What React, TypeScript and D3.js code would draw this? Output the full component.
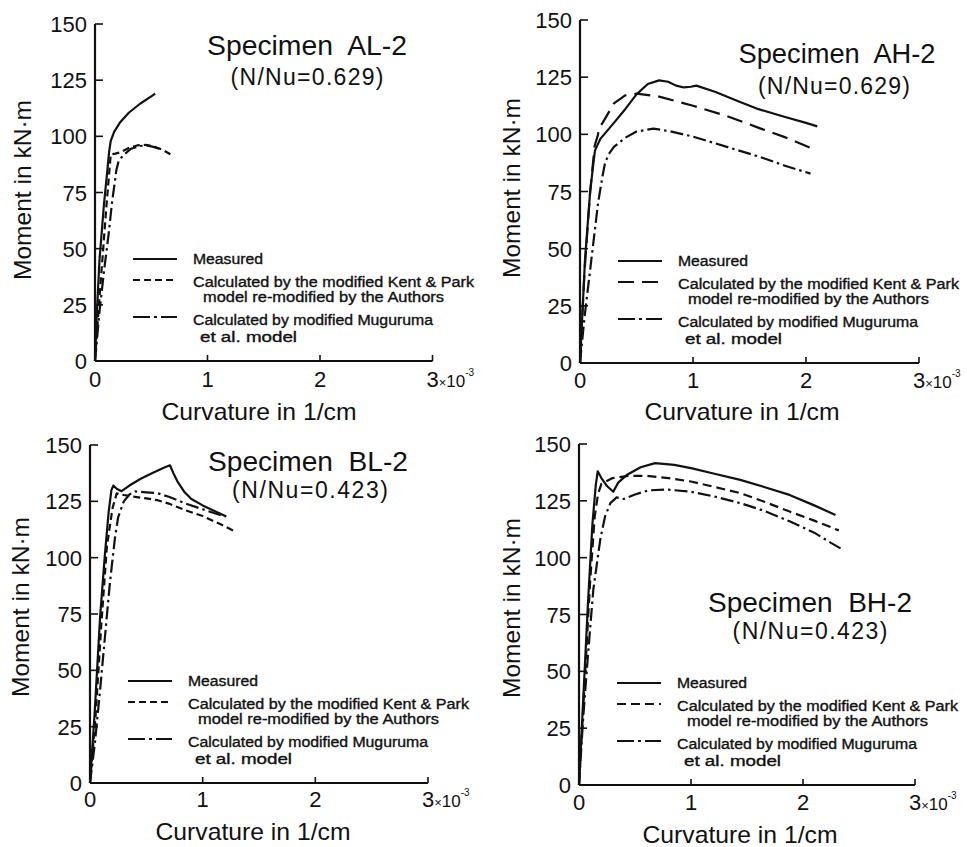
import React from "react";
import * as d3 from "d3";

type Pt = [number, number];

// ---------- data (curvature x10^-3 1/cm, moment kN·m) ----------
const AL2_measured: Pt[] = [[0,0],[0.015,20],[0.04,45],[0.08,70],[0.11,85],[0.125,93],[0.14,98],[0.17,102],[0.22,106],[0.3,110.5],[0.4,114.5],[0.5,117.8],[0.535,119]];
const AL2_kent: Pt[] = [[0,0],[0.03,22],[0.07,48],[0.1,68],[0.14,92],[0.18,92.3],[0.22,92.8],[0.3,94.8],[0.38,96],[0.45,96.2],[0.52,95.5],[0.6,94],[0.67,92]];
const AL2_mug: Pt[] = [[0,0],[0.04,22],[0.08,40],[0.12,56],[0.15,70],[0.19,85],[0.21,89],[0.25,91.5],[0.32,94.5],[0.4,95.7],[0.46,96],[0.52,95.3],[0.58,94.3]];

const AH2_measured: Pt[] = [[0,0],[0.044,45],[0.09,75],[0.12,88],[0.133,93],[0.18,98],[0.3,105],[0.4,111],[0.5,117.5],[0.6,122],[0.7,123.6],[0.78,123],[0.85,121.3],[0.92,120.5],[0.98,120.8],[1.03,121.3],[1.2,118.5],[1.4,114.5],[1.58,111],[1.8,107.8],[2.0,105],[2.1,103.5]];
const AH2_kent: Pt[] = [[0,0],[0.04,40],[0.09,75],[0.13,95],[0.16,100],[0.165,102.5],[0.2,105],[0.3,113.5],[0.4,117],[0.5,117.8],[0.7,116.5],[1.0,112.5],[1.3,108],[1.6,102.5],[1.8,99],[2.06,93.7]];
const AH2_mug: Pt[] = [[0,0],[0.04,20],[0.1,45],[0.16,70],[0.2,82],[0.22,87],[0.25,91],[0.3,94.5],[0.4,98.5],[0.5,101.2],[0.65,102.5],[0.8,101.3],[1.0,99],[1.3,94.5],[1.6,90],[1.8,86.5],[2.04,82.8]];

const BL2_measured: Pt[] = [[0,0],[0.04,30],[0.09,74],[0.13,100],[0.165,120],[0.19,130],[0.207,132],[0.24,130.5],[0.28,129.5],[0.35,132],[0.45,135],[0.55,137.5],[0.65,139.8],[0.71,141],[0.74,137.5],[0.78,133.5],[0.84,129],[0.9,126],[1.0,123.2],[1.1,120.8],[1.21,118.3]];
const BL2_kent: Pt[] = [[0,0],[0.05,30],[0.1,70],[0.15,105],[0.2,122],[0.237,128.5],[0.3,127.8],[0.4,127],[0.5,126.3],[0.6,125.5],[0.7,124],[0.85,121],[1.0,118.5],[1.15,115],[1.29,111.6]];
const BL2_mug: Pt[] = [[0,0],[0.044,18],[0.089,41],[0.133,65],[0.177,89],[0.222,109],[0.25,118],[0.3,125],[0.35,128],[0.4,129.4],[0.5,129],[0.6,128.6],[0.7,127],[0.85,124],[1.0,121.5],[1.1,119.8],[1.2,118.3]];

const BH2_measured: Pt[] = [[0,0],[0.04,40],[0.08,80],[0.12,115],[0.15,132],[0.167,138],[0.2,135],[0.25,131.5],[0.306,129],[0.35,133],[0.43,136.5],[0.55,139.8],[0.68,141.6],[0.85,140.8],[1.0,139.4],[1.2,137],[1.44,134.2],[1.66,131],[1.88,127.6],[2.1,123],[2.29,118.8]];
const BH2_kent: Pt[] = [[0,0],[0.05,45],[0.1,90],[0.14,118],[0.17,128],[0.2,132.5],[0.3,135],[0.45,136],[0.6,136],[0.8,135],[1.0,133.5],[1.2,131.2],[1.44,128.4],[1.66,124.5],[1.88,120.3],[2.1,116.3],[2.32,112]];
const BH2_mug: Pt[] = [[0,0],[0.038,30],[0.083,59],[0.128,86],[0.19,108],[0.232,118],[0.28,124],[0.336,126.5],[0.4,125.8],[0.5,127.8],[0.62,129.6],[0.77,130],[0.99,129.1],[1.2,127],[1.44,124],[1.66,120.5],[1.88,116],[2.1,111],[2.25,106.5],[2.36,103.4]];

const yTicks = [0, 25, 50, 75, 100, 125, 150];
const xTicks = [0, 1, 2];
const specimenNames = ["Specimen  AL-2", "Specimen  AH-2", "Specimen  BL-2", "Specimen  BH-2"];
const ratioLabels = ["(N/Nu=0.629)", "(N/Nu=0.629)", "(N/Nu=0.423)", "(N/Nu=0.423)"];
const legendLabels = ["Measured", "Calculated by the modified Kent & Park", "model re-modified by the Authors", "Calculated by modified Muguruma", "et al. model"];
const yAxisLabel = "Moment in kN·m";
const xAxisLabel = "Curvature in 1/cm";

const seriesByPanel: Pt[][][] = [
  [AL2_measured, AL2_kent, AL2_mug],
  [AH2_measured, AH2_kent, AH2_mug],
  [BL2_measured, BL2_kent, BL2_mug],
  [BH2_measured, BH2_kent, BH2_mug],
];

// ---------- layout ----------
const layouts = [
  { x0: 95, x3: 432.5, y0: 361, y150: 24, title: [307, 55], sub: [307, 85], titleW: 200, subW: 153, ylab: [23, 190], xlab: [259, 420], xTickBase: 387, kentDash: "7,4" },
  { x0: 580, x3: 919, y0: 363, y150: 20, title: [837, 63], sub: [834, 94], titleW: 197, subW: 152, ylab: [512, 188], xlab: [742, 420], xTickBase: 388, kentDash: "16,8" },
  { x0: 90, x3: 428, y0: 783, y150: 445, title: [308, 471], sub: [310, 498], titleW: 200, subW: 156, ylab: [21, 607], xlab: [253, 840], xTickBase: 807, kentDash: "7,4" },
  { x0: 579, x3: 915, y0: 785, y150: 444, title: [810, 612], sub: [810, 639], titleW: 204, subW: 155, ylab: [512, 608], xlab: [740, 843], xTickBase: 810, kentDash: "9,5" },
];

const FONT = "'Liberation Sans', Arial, sans-serif";
const INK = "#111";
const MUG_DASH = "13,4,2.5,4";
const pre: React.CSSProperties = { whiteSpace: "pre" };

function Panel({ idx }: { idx: number }) {
  const L = layouts[idx];
  const xs = d3.scaleLinear().domain([0, 3]).range([L.x0, L.x3]);
  const ys = d3.scaleLinear().domain([0, 150]).range([L.y0, L.y150]);
  const line = d3.line<Pt>().x((d) => xs(d[0])).y((d) => ys(d[1]));
  const [meas, kent, mug] = seriesByPanel[idx];
  const dashes = [undefined, L.kentDash, MUG_DASH];

  const lx1 = L.x0 + 38, lx2 = L.x0 + 82, tx = L.x0 + 98;
  const yMeas = L.y0 - 102, yKent = L.y0 - 81, yMug = L.y0 - 44;
  const legFont = 14;
  const legStyle = { fontSize: legFont, fontFamily: FONT, fill: INK, stroke: INK, strokeWidth: 0.35 } as any;

  return (
    <g>
      {/* axes */}
      <line x1={xs(0)} x2={xs(0)} y1={ys(0)} y2={ys(150)} stroke={INK} strokeWidth={2.2} />
      <line x1={xs(0)} x2={xs(3)} y1={ys(0)} y2={ys(0)} stroke={INK} strokeWidth={2.2} />
      {yTicks.map((t) => (
        <g key={"yt" + t}>
          {t > 0 && <line x1={xs(0)} x2={xs(0) + 8} y1={ys(t)} y2={ys(t)} stroke={INK} strokeWidth={1.6} />}
          <text x={xs(0) - 8} y={ys(t) + 8} textAnchor="end" fontSize={22} fontFamily={FONT} fill={INK}>{t}</text>
        </g>
      ))}
      {[1, 2, 3].map((t) => (
        <line key={"xt" + t} x1={xs(t)} x2={xs(t)} y1={ys(0)} y2={ys(0) - 6} stroke={INK} strokeWidth={1.6} />
      ))}
      {xTicks.map((t) => (
        <text key={"xl" + t} x={xs(t)} y={L.xTickBase} textAnchor="middle" fontSize={22} fontFamily={FONT} fill={INK}>{t}</text>
      ))}
      <text x={xs(3) - 6} y={L.xTickBase} fontFamily={FONT} fill={INK}>
        <tspan fontSize={22}>3</tspan>
        <tspan fontSize={13}>×</tspan>
        <tspan fontSize={17}>10</tspan>
        <tspan fontSize={10} dy={-11}>-3</tspan>
      </text>

      {/* axis titles */}
      <text transform={`translate(${L.ylab[0]},${L.ylab[1]}) rotate(-90)`} dy="0.35em" textAnchor="middle" fontSize={24} fontFamily={FONT} fill={INK} textLength={180} lengthAdjust="spacingAndGlyphs">{yAxisLabel}</text>
      <text x={L.xlab[0]} y={L.xlab[1]} textAnchor="middle" fontSize={24} fontFamily={FONT} fill={INK} textLength={195} lengthAdjust="spacingAndGlyphs">{xAxisLabel}</text>

      {/* specimen titles */}
      <text x={L.title[0]} y={L.title[1]} textAnchor="middle" fontSize={28} fontFamily={FONT} fill={INK} style={pre} textLength={L.titleW} lengthAdjust="spacingAndGlyphs">{specimenNames[idx]}</text>
      <text x={L.sub[0]} y={L.sub[1]} textAnchor="middle" fontSize={23} fontFamily={FONT} fill={INK} textLength={L.subW} lengthAdjust="spacing">{ratioLabels[idx]}</text>

      {/* curves */}
      {[meas, kent, mug].map((s, i) => (
        <path key={"c" + i} d={line(s) || ""} fill="none" stroke={INK} strokeWidth={2.2} strokeDasharray={dashes[i]} strokeLinejoin="round" />
      ))}

      {/* legend */}
      <line x1={lx1} x2={lx2} y1={yMeas} y2={yMeas} stroke={INK} strokeWidth={2.2} />
      <line x1={lx1} x2={lx2} y1={yKent} y2={yKent} stroke={INK} strokeWidth={2.2} strokeDasharray={L.kentDash} />
      <line x1={lx1} x2={lx2} y1={yMug} y2={yMug} stroke={INK} strokeWidth={2.2} strokeDasharray="17,4,3,4" />
      <text x={tx} y={yMeas + 5} style={legStyle} textLength={70} lengthAdjust="spacingAndGlyphs">{legendLabels[0]}</text>
      <text x={tx} y={yKent + 7} style={legStyle} textLength={281} lengthAdjust="spacingAndGlyphs">{legendLabels[1]}</text>
      <text x={tx + 10} y={yKent + 22} style={legStyle} textLength={241} lengthAdjust="spacingAndGlyphs">{legendLabels[2]}</text>
      <text x={tx} y={yMug + 8} style={legStyle} textLength={240} lengthAdjust="spacingAndGlyphs">{legendLabels[3]}</text>
      <text x={tx + 7} y={yMug + 25} style={legStyle} textLength={97} lengthAdjust="spacingAndGlyphs">{legendLabels[4]}</text>
    </g>
  );
}

export default function App() {
  return (
    <svg width={967} height={847} viewBox="0 0 967 847" style={{ position: "absolute", left: 0, top: 0, background: "#fff" }}>
      <rect x={0} y={0} width={967} height={847} fill="#fff" />
      {[0, 1, 2, 3].map((i) => (
        <Panel key={i} idx={i} />
      ))}
    </svg>
  );
}
